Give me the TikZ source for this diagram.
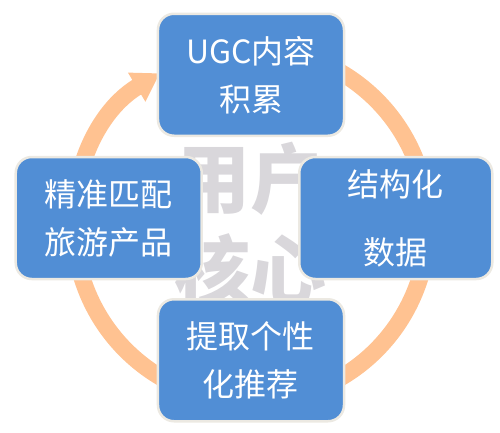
\documentclass[tikz,border=0pt]{standalone}
\usepackage{fontspec}
\usepackage{xcolor}
\usepackage{tikz}
\usetikzlibrary{arrows.meta,positioning}
\setmainfont{Noto Sans CJK SC}
\definecolor{boxblue}{RGB}{81,142,213}
\definecolor{boxrim}{RGB}{236,233,226}
\definecolor{ringorange}{RGB}{255,194,145}
\definecolor{coregray}{RGB}{217,215,219}

\begin{document}
\begin{tikzpicture}[
  box/.style={draw=boxrim, line width=2.5pt, fill=boxblue, rounded corners=16pt,
              align=center, text=white, minimum width=186pt, minimum height=122pt,
              font=\fontsize{32}{48}\selectfont},
  ring/.style={draw=ringorange, line width=17pt},
  >={Triangle[length=27pt,width=32pt]}]
  \coordinate (c) at (0,0);
  \coordinate (o) at (0,-7pt);
  \useasboundingbox (-251pt,218pt) rectangle (249pt,-214pt);
  \draw[ring, ->] (o) ++(470:177pt) arc[start angle=470, end angle=121, radius=177pt];
  \node[text=coregray, font=\fontsize{76}{92}\selectfont\bfseries, align=center]
       (core) at ([yshift=-6pt]c) {用户\\核心};
  \node[box, above=81pt of c] (ugc) {UGC内容\\积累};
  \node[box, minimum width=193pt, right=47pt of c] (data) {结构化\\[20pt]数据};
  \node[box, below=80pt of c] (rec) {提取个性\\化推荐};
  \node[box, left=48pt of c] (match) {精准匹配\\旅游产品};
\end{tikzpicture}
\end{document}
